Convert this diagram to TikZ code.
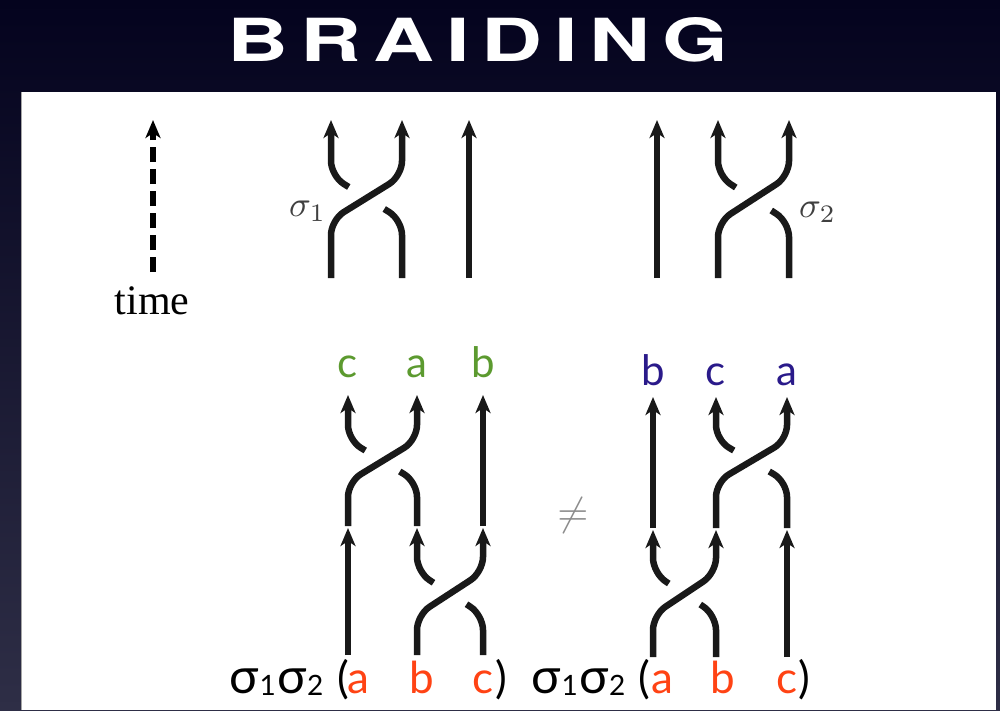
\documentclass[tikz,border=0pt]{standalone}
\usepackage{fontspec}
\usepackage{graphicx}
\usetikzlibrary{arrows.meta,calc}
\newfontfamily\labelfont{Lato}
\newfontfamily\timefont{Liberation Serif}
\newfontfamily\headfont{TeX Gyre Heros}
\definecolor{bgtop}{RGB}{4,3,30}
\definecolor{bgbot}{RGB}{46,46,70}
\definecolor{outgreen}{RGB}{92,154,47}
\definecolor{outblue}{RGB}{42,26,138}
\definecolor{inred}{RGB}{255,67,20}
\newcommand\sigmachar{{\fontsize{49}{49}\selectfont σ}}
\newcommand\sub[1]{\raisebox{-2pt}{\fontsize{28}{28}\selectfont #1}}
\begin{document}
\begin{tikzpicture}[x=1pt,y=-1pt,
  strand/.style={line width=6.5pt,rounded corners=15pt,black!90},
  up/.style={strand,-{Stealth[length=18pt,width=15pt,inset=5pt]}},
  outlbl/.style={font=\labelfont\fontsize{42}{42}\selectfont,anchor=base,inner sep=0pt},
  inlbl/.style={font=\labelfont\fontsize{44}{44}\selectfont,anchor=base,inner sep=0pt,text=inred},
  wordlbl/.style={font=\labelfont\fontsize{44}{44}\selectfont,anchor=base,inner sep=0pt},
  gen/.style={text=black!75,inner sep=0pt,anchor=base west}]
\useasboundingbox (0,0) rectangle (1000,710);
% backdrop and white panel
\shade[top color=bgtop,bottom color=bgbot] (0,0) rectangle (1000,710);
\fill[white] (22,92) rectangle (996,710);
\draw[black!35,line width=0.8pt] (21.6,92) -- (21.6,710);

% heading
\node[text=white,inner sep=0pt] (title) at (478,40)
  {\resizebox{500pt}{44pt}{\headfont\bfseries B\kern.14em R\kern.14em A\kern.14em I\kern.14em D\kern.14em I\kern.14em N\kern.14em G}};

% time axis
\draw[line width=6pt,dash pattern=on 15pt off 7pt,-{Stealth[length=18pt,width=15pt,inset=5pt]}] (153,272) -- (153,120);
\node[font=\timefont\fontsize{42}{42}\selectfont,anchor=base,inner sep=0pt] (time) at (152,314) {time};

% generator sigma_1
\draw[up] (331,278) -- (331,220) -- (402,176) -- (402,120);
\draw[up] ($(331,176)!0.25!(402,220)$) -- (331,176) -- (331,120);
\draw[strand] (402,278) -- (402,220) -- ($(402,220)!0.25!(331,176)$);
\draw[up] (469,278) -- (469,120);
\node[gen] (s1) at (289,216) {\scalebox{3.6}{$\sigma_1$}};

% generator sigma_2
\draw[up] (657,278) -- (657,120);
\draw[up] (718,278) -- (718,222) -- (789,176) -- (789,120);
\draw[up] ($(718,176)!0.25!(789,222)$) -- (718,176) -- (718,120);
\draw[strand] (789,278) -- (789,222) -- ($(789,222)!0.25!(718,176)$);
\node[gen] (s2) at (799,217) {\scalebox{3.6}{$\sigma_2$}};

% product sigma_1 sigma_2, left: sigma_2 first, then sigma_1
\draw[up] (348,655) -- (348,528);
\draw[up] (417,655) -- (417,615) -- (483,572) -- (483,528);
\draw[up] ($(417,572)!0.25!(483,615)$) -- (417,572) -- (417,528);
\draw[strand] (483,655) -- (483,615) -- ($(483,615)!0.25!(417,572)$);
\draw[up] (348,526) -- (348,482) -- (417,440) -- (417,395);
\draw[up] ($(348,440)!0.25!(417,482)$) -- (348,440) -- (348,395);
\draw[strand] (417,526) -- (417,482) -- ($(417,482)!0.25!(348,440)$);
\draw[up] (483,526) -- (483,395);
\node[outlbl,text=outgreen] (lc) at (348,377) {c};
\node[outlbl,text=outgreen] (la) at (417,377) {a};
\node[outlbl,text=outgreen] (lb) at (483,377) {b};

% inequality sign
\node[text=black!45,inner sep=0pt] (neq) at (573,515) {\scalebox{4}{$\neq$}};

% product sigma_1 sigma_2, right: sigma_1 first, then sigma_2
\draw[up] (653,657) -- (653,615) -- (716,573) -- (716,530);
\draw[up] ($(653,573)!0.25!(716,615)$) -- (653,573) -- (653,530);
\draw[strand] (716,657) -- (716,615) -- ($(716,615)!0.25!(653,573)$);
\draw[up] (787,657) -- (787,530);
\draw[up] (653,528) -- (653,397);
\draw[up] (716,528) -- (716,482) -- (787,440) -- (787,397);
\draw[up] ($(716,440)!0.25!(787,482)$) -- (716,440) -- (716,397);
\draw[strand] (787,528) -- (787,482) -- ($(787,482)!0.25!(716,440)$);
\node[outlbl,text=outblue] (rb) at (653,385) {b};
\node[outlbl,text=outblue] (rc) at (716,385) {c};
\node[outlbl,text=outblue] (ra) at (787,385) {a};

% formulas below the braids
\node[wordlbl,anchor=base west] (lw) at (229,693) {\sigmachar\kern1pt\sub{1}\kern2pt\sigmachar\sub{2}};
\node[wordlbl] (lo) at (343,693) {(};
\node[inlbl] (ia) at (358,693) {a};
\node[inlbl] (ib) at (422,693) {b};
\node[inlbl] (ic) at (483,693) {c};
\node[wordlbl] (lcl) at (501,693) {)};
\node[wordlbl,anchor=base west] (rw) at (531,693) {\sigmachar\kern1pt\sub{1}\kern2pt\sigmachar\sub{2}};
\node[wordlbl] (ro) at (644,693) {(};
\node[inlbl] (ja) at (662,693) {a};
\node[inlbl] (jb) at (723,693) {b};
\node[inlbl] (jc) at (787,693) {c};
\node[wordlbl] (rcl) at (804,693) {)};
\end{tikzpicture}
\end{document}
